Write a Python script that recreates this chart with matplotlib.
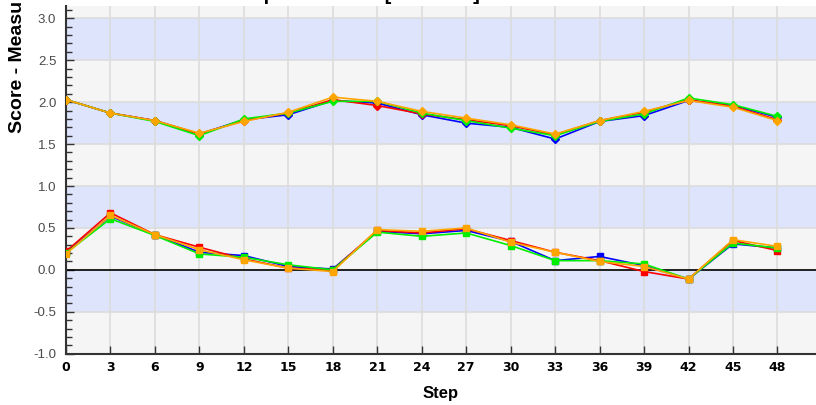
import matplotlib
matplotlib.use("Agg")
import matplotlib.pyplot as plt
from matplotlib.ticker import MultipleLocator
import numpy as np

plt.rcParams['font.family'] = ['Liberation Sans', 'DejaVu Sans']

steps = [0, 3, 6, 9, 12, 15, 18, 21, 24, 27, 30, 33, 36, 39, 42, 45, 48]
step_labels = [str(s) for s in steps]

upper_blue = [2.03, 1.87, 1.78, 1.62, 1.79, 1.85, 2.02, 1.99, 1.85, 1.75, 1.70, 1.56, 1.77, 1.84, 2.02, 1.96, 1.82]
upper_red = [2.03, 1.87, 1.78, 1.62, 1.78, 1.87, 2.03, 1.96, 1.86, 1.79, 1.72, 1.61, 1.78, 1.88, 2.03, 1.95, 1.79]
upper_green = [2.03, 1.87, 1.77, 1.60, 1.80, 1.87, 2.01, 2.01, 1.87, 1.78, 1.69, 1.60, 1.77, 1.86, 2.05, 1.97, 1.83]
upper_orange = [2.03, 1.87, 1.78, 1.63, 1.77, 1.88, 2.06, 2.01, 1.89, 1.81, 1.73, 1.62, 1.78, 1.89, 2.02, 1.94, 1.78]

lower_blue = [0.21, 0.64, 0.42, 0.21, 0.17, 0.04, 0.01, 0.46, 0.43, 0.47, 0.34, 0.11, 0.16, 0.05, -0.11, 0.31, 0.26]
lower_red = [0.22, 0.68, 0.42, 0.27, 0.13, 0.02, 0.00, 0.47, 0.44, 0.49, 0.35, 0.21, 0.11, -0.02, -0.11, 0.35, 0.23]
lower_green = [0.20, 0.61, 0.41, 0.19, 0.15, 0.06, 0.00, 0.45, 0.40, 0.44, 0.29, 0.11, 0.11, 0.07, -0.11, 0.32, 0.26]
lower_orange = [0.19, 0.65, 0.42, 0.24, 0.12, 0.02, -0.02, 0.48, 0.46, 0.50, 0.33, 0.21, 0.10, 0.04, -0.11, 0.36, 0.28]

colors = ['#0000ff', '#ff0000', '#00ee00', '#ffa500']
upper = [upper_blue, upper_red, upper_green, upper_orange]
lower = [lower_blue, lower_red, lower_green, lower_orange]

title_text = "Compare Scores [Measure]"
ylabel_text = "Score - Measu"
xlabel_text = "Step"

W, H = 816, 405
fig = plt.figure(figsize=(W / 100, H / 100), dpi=100)
ax = fig.add_axes([66 / W, 1 - 353.7 / H, 1 - 66 / W, (353.7 - 6) / H])

ymin, ymax = -1.0, 3.147
ax.set_xlim(0, 50.6)
ax.set_ylim(ymin, ymax)

ax.set_facecolor('#f5f5f5')
band_blue = '#dde4fb'
for lo in np.arange(-0.5, 3.0, 1.0):
    ax.axhspan(lo, lo + 0.5, color=band_blue, zorder=0, lw=0)

ax.set_xticks(steps)
ax.set_xticklabels(step_labels, fontfamily='DejaVu Sans', fontweight='bold')
ax.yaxis.set_major_locator(MultipleLocator(0.5))
ax.yaxis.set_minor_locator(MultipleLocator(0.1))
ax.grid(True, which='major', color='#dcdcdc', lw=1.2, zorder=1)
ax.set_axisbelow(True)

ax.axhline(0, color='black', lw=1.2, zorder=2)

for c, ys in zip(colors, upper):
    ax.plot(steps, ys, color=c, lw=1.2, marker='D', markersize=4.5, zorder=3)
for c, ys in zip(colors, lower):
    ax.plot(steps, ys, color=c, lw=1.2, marker='s', markersize=5, zorder=3)

for side in ['top', 'right']:
    ax.spines[side].set_visible(False)
for side in ['left', 'bottom']:
    ax.spines[side].set_color('#333333')
    ax.spines[side].set_linewidth(1.5)

ax.tick_params(axis='y', which='major', direction='in', length=6, width=1, color='#333333',
               labelcolor='#4a4a4a', labelsize=9.5, pad=7)
ax.tick_params(axis='y', which='minor', direction='in', length=4, width=1, color='#333333')
ax.tick_params(axis='x', which='major', direction='in', length=6, width=1, color='#333333',
               labelsize=9, pad=5)

ax.set_yticks(np.arange(-1.0, 3.01, 0.5))
ax.set_yticklabels([f"{v:.1f}" for v in np.arange(-1.0, 3.01, 0.5)])

ax.set_xlabel(xlabel_text, fontsize=12, fontweight='bold', labelpad=9)
fig.text(18 / W, 1 - 133 / H, ylabel_text, rotation=90, ha='center', va='bottom',
         fontsize=14, fontweight='bold')
fig.text(219 / W, 1.0, title_text, ha='left', va='baseline', fontsize=14.5, fontweight='bold')

fig.savefig('out.png', dpi=100)
